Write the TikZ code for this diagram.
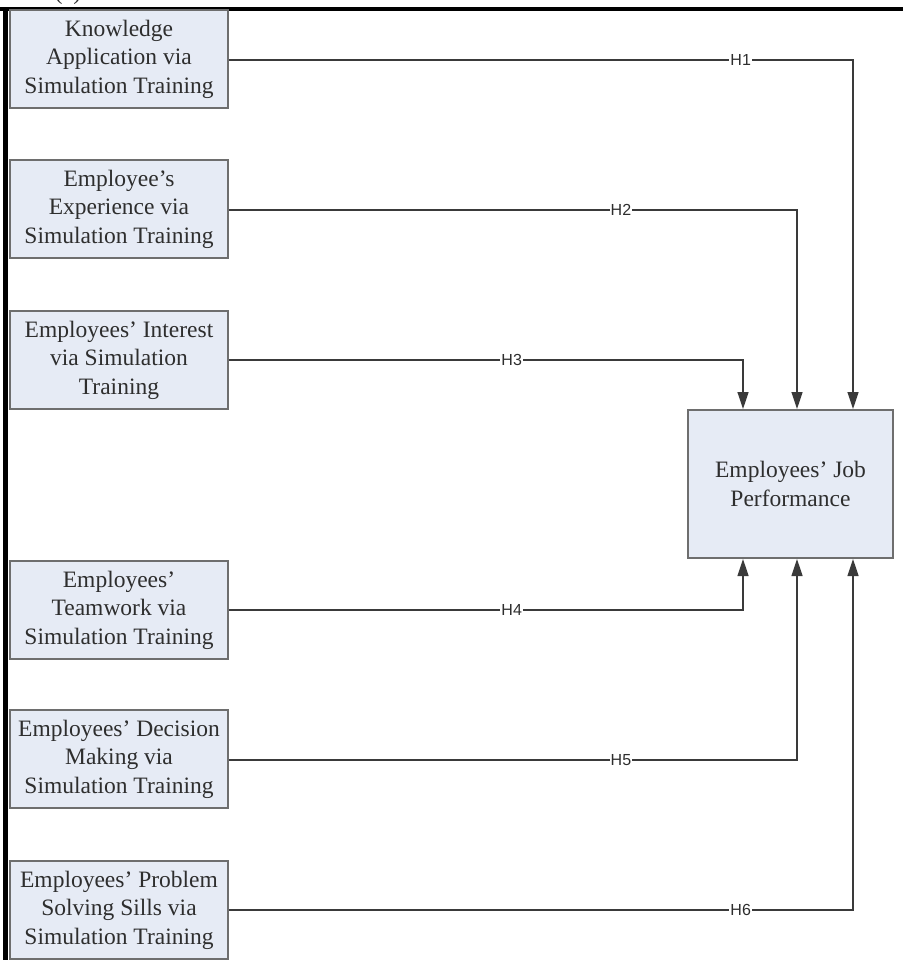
\documentclass[tikz,border=0pt]{standalone}
\usepackage{fontspec}
\setmainfont{Liberation Serif}
\newfontfamily\labfont{Liberation Sans}
\usetikzlibrary{arrows.meta}
\definecolor{boxfill}{HTML}{E6EBF5}
\definecolor{boxline}{HTML}{6E6E6E}
\definecolor{conn}{HTML}{3A3A3A}
\definecolor{txt}{HTML}{2E2E2E}
\begin{document}
\begin{tikzpicture}[x=1pt,y=-1pt,
  fbox/.style={draw=boxline,line width=2pt,fill=boxfill,minimum width=218pt,minimum height=98pt,
    align=center,text=txt,font=\fontsize{23.5}{28.5}\selectfont,inner sep=0pt},
  bigbox/.style={fbox,minimum width=205pt,minimum height=148pt},
  link/.style={draw=conn,line width=1.3pt,-{Triangle[length=17pt,width=11pt]}},
  hlab/.style={fill=white,inner sep=1pt,text=txt,font=\labfont\fontsize{16}{16}\selectfont}]
\useasboundingbox (0,0) rectangle (903,960);
\begin{scope}
\clip (0,0) rectangle (903,960);
\node[font=\fontsize{24}{24}\selectfont,text=txt] (tag) at (68,-6) {(a)};
\fill[black] (0,7) rectangle (903,11);
\fill[black] (3,7) rectangle (8,960);
\node[fbox] (k1) at (119,59) {Knowledge\\Application via\\Simulation Training};
\node[fbox] (k2) at (119,209) {Employee's\\Experience via\\Simulation Training};
\node[fbox] (k3) at (119,360) {Employees' Interest\\via Simulation\\Training};
\node[fbox] (k4) at (119,610) {Employees'\\Teamwork via\\Simulation Training};
\node[fbox] (k5) at (119,759) {Employees' Decision\\Making via\\Simulation Training};
\node[fbox] (k6) at (119,910) {Employees' Problem\\Solving Sills via\\Simulation Training};
\node[bigbox] (jp) at (790.5,484) {Employees' Job\\Performance};
\end{scope}
\coordinate (c1) at (853,60);
\coordinate (c2) at (797,210);
\coordinate (c3) at (743,360);
\coordinate (c4) at (743,610);
\coordinate (c5) at (797,760);
\coordinate (c6) at (853,910);
\draw[link] (k1.east |- c1) -- node[hlab,pos=0.82]{H1} (c1) -- (c1 |- jp.north);
\draw[link] (k2.east |- c2) -- node[hlab,pos=0.69]{H2} (c2) -- (c2 |- jp.north);
\draw[link] (k3.east |- c3) -- node[hlab,pos=0.55]{H3} (c3) -- (c3 |- jp.north);
\draw[link] (k4.east |- c4) -- node[hlab,pos=0.55]{H4} (c4) -- (c4 |- jp.south);
\draw[link] (k5.east |- c5) -- node[hlab,pos=0.69]{H5} (c5) -- (c5 |- jp.south);
\draw[link] (k6.east |- c6) -- node[hlab,pos=0.82]{H6} (c6) -- (c6 |- jp.south);
\end{tikzpicture}
\end{document}
